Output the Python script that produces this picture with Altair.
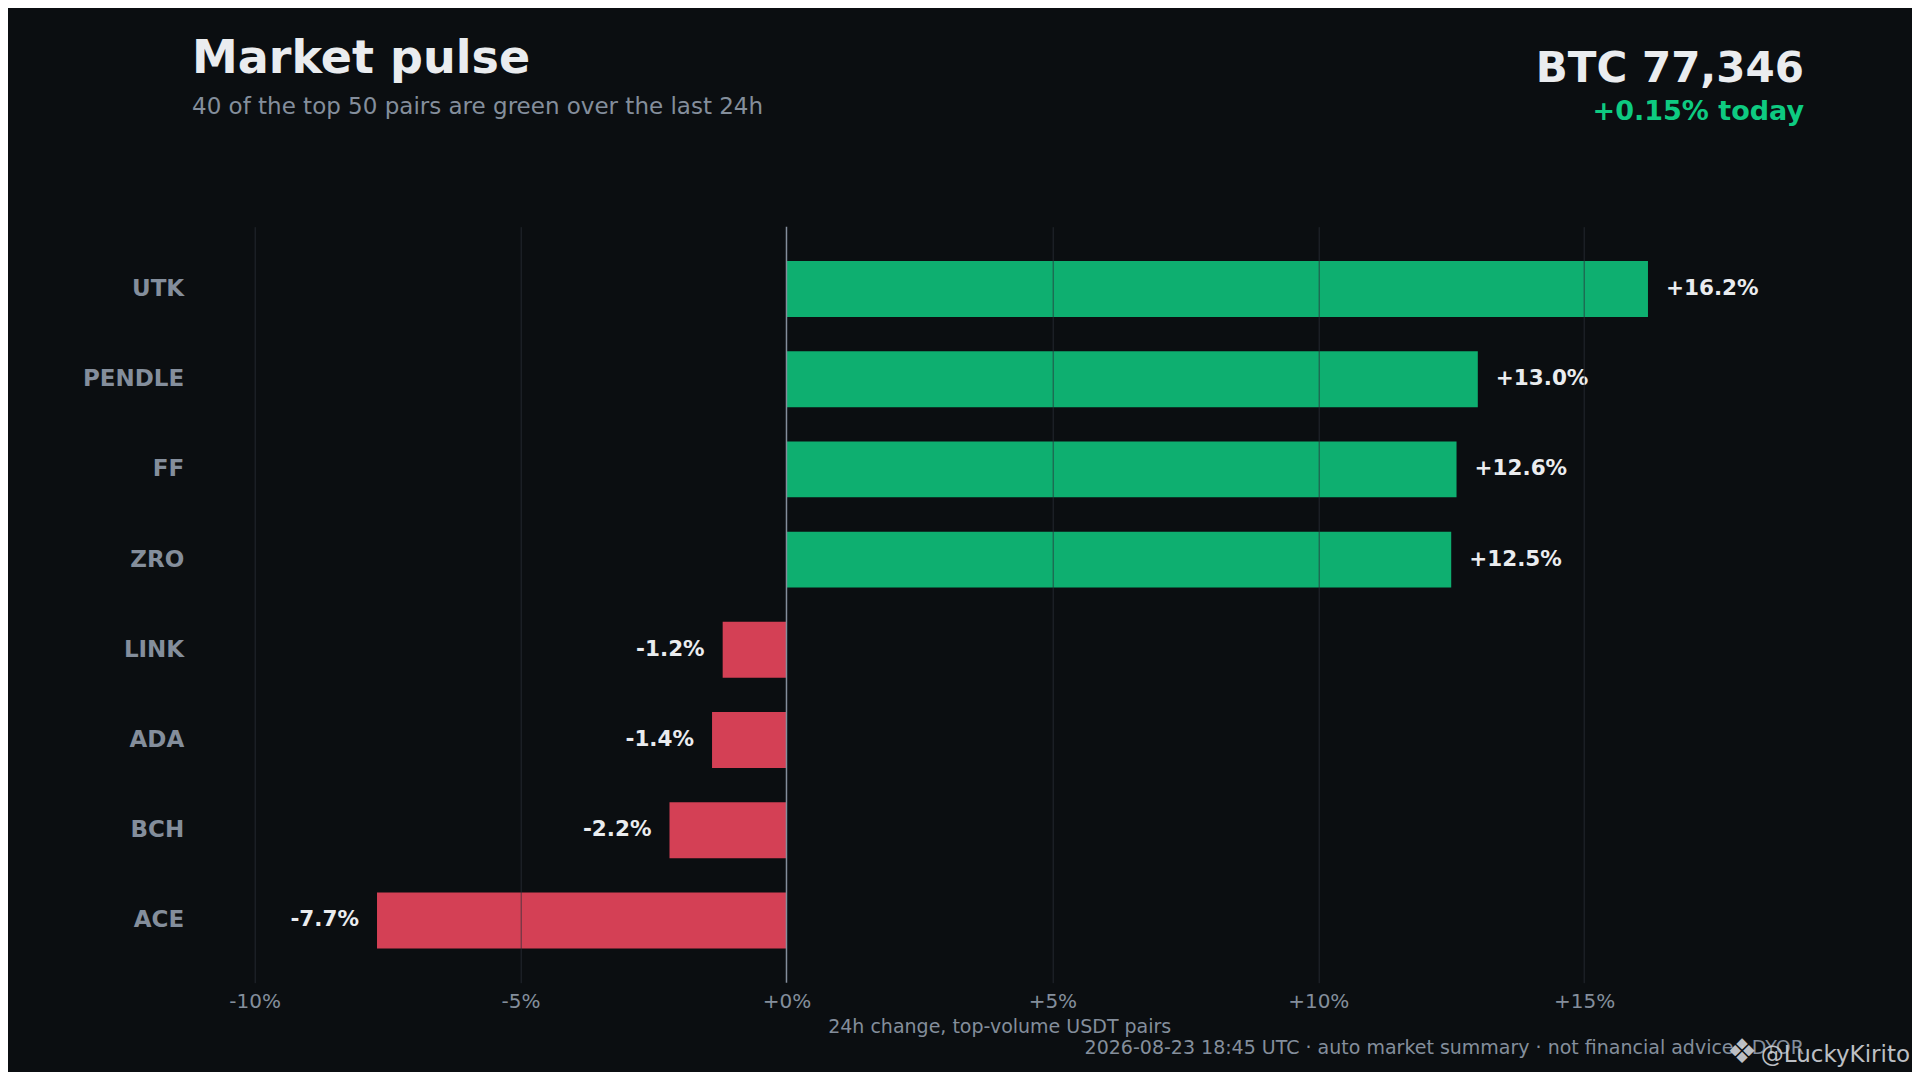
import altair as alt
import pandas as pd

# ---- data ----
symbols = ["UTK", "PENDLE", "FF", "ZRO", "LINK", "ADA", "BCH", "ACE"]
changes = [16.2, 13.0, 12.6, 12.5, -1.2, -1.4, -2.2, -7.7]
x_ticks = [-10, -5, 0, 5, 10, 15]

title_text = "Market pulse"
subtitle_text = "40 of the top 50 pairs are green over the last 24h"
btc_text = "BTC 77,346"
btc_change_text = "+0.15% today"
x_title = "24h change, top-volume USDT pairs"
footer_text = "2026-08-23 18:45 UTC · auto market summary · not financial advice · DYOR"
watermark_icon = "❖"
watermark_text = "@LuckyKirito"

# ---- style ----
FONT = "DejaVu Sans"
BG = "#0b0e11"
GREEN = "#0eaf70"
RED = "#d44055"
WHITE = "#eaecef"
GRAY = "#848e9c"
TEXT_GREEN = "#0ecb81"

PLOT_W, PLOT_H = 1489, 756
PAD_L, PAD_T = 246.7, 218.7
TOTAL_W, TOTAL_H = 1904, 1064

df = pd.DataFrame({"symbol": symbols, "change": changes})
df["label"] = [f"{v:+.1f}%" for v in changes]

x_scale = alt.Scale(domain=[-10, 18], nice=False, zero=False)
y_enc = alt.Y(
    "symbol:N",
    sort=symbols,
    scale=alt.Scale(paddingInner=0.38, paddingOuter=0.38),
    axis=alt.Axis(
        title=None, domain=False, ticks=False, grid=False,
        labelPadding=71, labelFontSize=23, labelFontWeight="bold",
        labelColor=GRAY, labelFont=FONT,
    ),
)
x_axis = alt.Axis(
    values=x_ticks,
    labelExpr="(datum.value >= 0 ? '+' : '') + datum.value + '%'",
    domain=False, ticks=False, labelPadding=9, labelFontSize=20,
    labelColor=GRAY, labelFont=FONT, labelFlush=False,
    grid=True, gridColor="#2b3139", gridWidth=1,
    gridOpacity=alt.condition("datum.value == 0", alt.value(0), alt.value(0.75)),
    zindex=1,
    title=x_title, titleFontSize=19, titleFontWeight="normal",
    titleColor=GRAY, titleFont=FONT, titleY=35, titleBaseline="top",
)

bars = alt.Chart(df).mark_bar().encode(
    x=alt.X("change:Q", scale=x_scale, axis=x_axis),
    x2=alt.datum(0),
    y=y_enc,
    color=alt.condition("datum.change > 0", alt.value(GREEN), alt.value(RED)),
)

zero_rule = alt.Chart(alt.Data(values=[{}])).mark_rule(
    color=GRAY, strokeWidth=1.5
).encode(x=alt.datum(0))

pos_labels = alt.Chart(df).transform_filter("datum.change > 0").mark_text(
    align="left", baseline="middle", dx=18, fontSize=21.5,
    fontWeight="bold", color=WHITE, font=FONT,
).encode(x="change:Q", y=alt.Y("symbol:N", sort=symbols), text="label:N")

neg_labels = alt.Chart(df).transform_filter("datum.change < 0").mark_text(
    align="right", baseline="middle", dx=-18, fontSize=21.5,
    fontWeight="bold", color=WHITE, font=FONT,
).encode(x="change:Q", y=alt.Y("symbol:N", sort=symbols), text="label:N")


def note(text, x, y, size, color, weight="normal", align="left",
         baseline="alphabetic", opacity=1.0):
    return alt.Chart(alt.Data(values=[{}])).mark_text(
        align=align, baseline=baseline, fontSize=size, opacity=opacity,
        fontWeight=weight, color=color, font=FONT,
    ).encode(x=alt.value(x), y=alt.value(y), text=alt.value(text))


title = note(title_text, -62.7, -153.7, 46, WHITE, "bold")
subtitle = note(subtitle_text, -62.7, -112.7, 23, GRAY)
btc = note(btc_text, 1549.3, -145, 42, WHITE, "bold", "right")
btc_chg = note(btc_change_text, 1549.3, -106.7, 27, TEXT_GREEN, "bold", "right")
footer = note(footer_text, 1549.3, 827.5, 19, GRAY, "normal", "right")
wm_icon = note(watermark_icon, 1487.3, 826.3, 34, "#d0d3d8", "normal",
               "center", "middle", 0.9)
wm_text = note(watermark_text, 1655.3, 835, 23, "#d0d3d8", "normal",
               "right", "alphabetic", 0.9)

chart = alt.layer(
    bars, zero_rule, pos_labels, neg_labels,
    title, subtitle, btc, btc_chg, footer, wm_icon, wm_text,
).properties(
    width=PLOT_W,
    height=PLOT_H,
    autosize=alt.AutoSizeParams(type="none"),
    padding={
        "left": PAD_L,
        "top": PAD_T,
        "right": TOTAL_W - PAD_L - PLOT_W,
        "bottom": TOTAL_H - PAD_T - PLOT_H,
    },
    background=BG,
).configure_view(stroke=None)

chart.save("out.html", embed_options={"renderer": "svg", "actions": False})
